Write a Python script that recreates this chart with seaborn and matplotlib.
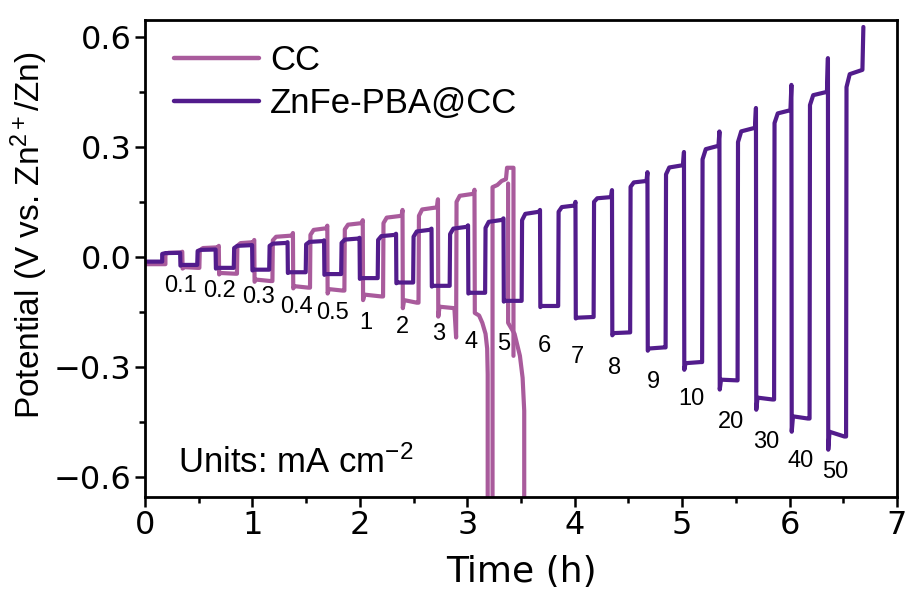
import numpy as np
import pandas as pd
import matplotlib
matplotlib.use("Agg")
import matplotlib.pyplot as plt
import seaborn as sns

# ---------------- data ----------------
step_labels = ["0.1", "0.2", "0.3", "0.4", "0.5", "1", "2", "3", "4", "5",
               "6", "7", "8", "9", "10", "20", "30", "40", "50"]
label_t = [0.326, 0.698, 1.061, 1.406, 1.741, 2.058, 2.393, 2.737, 3.035, 3.343,
           3.715, 4.022, 4.367, 4.730, 5.084, 5.456, 5.782, 6.099, 6.425]
label_v = [-0.079, -0.093, -0.109, -0.136, -0.153, -0.180, -0.191, -0.210, -0.232, -0.237,
           -0.243, -0.273, -0.303, -0.341, -0.387, -0.450, -0.504, -0.556, -0.586]

# ZnFe-PBA@CC : transition times (h) and potentials (V)
pba_rise = [0.16, 0.49, 0.83, 1.16, 1.50, 1.83, 2.17, 2.50, 2.84, 3.17,
            3.51, 3.85, 4.18, 4.52, 4.85, 5.19, 5.52, 5.86, 6.19, 6.53]
pba_drop = [0.33, 0.66, 1.00, 1.33, 1.67, 2.00, 2.34, 2.67, 3.01, 3.34,
            3.68, 4.01, 4.35, 4.68, 5.02, 5.35, 5.69, 6.02, 6.36]
pba_end = 6.69
pba_neg_init = -0.013
pba_pos_start = [0.008, 0.016, 0.024, 0.030, 0.034, 0.038, 0.046, 0.055, 0.062, 0.079,
                 0.100, 0.123, 0.150, 0.191, 0.225, 0.266, 0.313, 0.365, 0.414, 0.463]
pba_pos_end = [0.011, 0.020, 0.032, 0.038, 0.043, 0.050, 0.060, 0.074, 0.082, 0.101,
               0.123, 0.140, 0.163, 0.207, 0.250, 0.303, 0.352, 0.400, 0.450, 0.510]
pba_pos_peak = [0.011, 0.020, 0.032, 0.040, 0.045, 0.052, 0.063, 0.077, 0.086, 0.105,
                0.128, 0.150, 0.182, 0.231, 0.286, 0.342, 0.406, 0.469, 0.542, 0.627]
pba_neg_peak = [-0.024, -0.032, -0.037, -0.044, -0.049, -0.060, -0.072, -0.081, -0.100, -0.122,
                -0.137, -0.168, -0.214, -0.256, -0.308, -0.362, -0.417, -0.477, -0.526]
pba_neg_start = [-0.022, -0.030, -0.035, -0.042, -0.047, -0.058, -0.070, -0.079, -0.098, -0.120,
                 -0.134, -0.166, -0.208, -0.250, -0.290, -0.335, -0.384, -0.435, -0.477]
pba_neg_end = [-0.022, -0.030, -0.035, -0.042, -0.047, -0.058, -0.070, -0.079, -0.098, -0.120,
               -0.134, -0.164, -0.206, -0.247, -0.287, -0.337, -0.389, -0.441, -0.490]

# CC : regular cycles, then failure
cc_rise = [0.19, 0.51, 0.86, 1.19, 1.54, 1.86, 2.22, 2.55, 2.90]
cc_drop = [0.35, 0.69, 1.02, 1.38, 1.70, 2.03, 2.40, 2.73, 3.07]
cc_neg_init = -0.020
cc_pos_start = [0.008, 0.018, 0.030, 0.045, 0.060, 0.075, 0.092, 0.112, 0.150]
cc_pos_end = [0.012, 0.026, 0.040, 0.058, 0.078, 0.092, 0.112, 0.135, 0.172]
cc_pos_peak = [0.014, 0.030, 0.046, 0.065, 0.085, 0.100, 0.128, 0.157, 0.183]
cc_neg_peak = [-0.032, -0.048, -0.068, -0.086, -0.100, -0.118, -0.140, -0.163]
cc_neg_start = [-0.028, -0.044, -0.062, -0.080, -0.088, -0.103, -0.118, -0.136]
cc_neg_end = [-0.030, -0.046, -0.066, -0.084, -0.092, -0.108, -0.125, -0.140]
cc_neg_tail = [-0.030, -0.046, -0.066, -0.084, -0.092, -0.108, -0.125, -0.220]
cc_fail_t = [3.07, 3.11, 3.14, 3.17, 3.185, 3.19, 3.19, 3.235, 3.235, 3.28, 3.32, 3.36,
             3.37, 3.43, 3.43]
cc_fail_v = [-0.153, -0.160, -0.180, -0.210, -0.250, -0.320, -0.800, -0.800, 0.190, 0.196,
             0.207, 0.212, 0.243, 0.243, -0.270]
cc_frag_t = [3.38, 3.38, 3.44, 3.49, 3.515, 3.53, 3.53]
cc_frag_v = [0.200, -0.180, -0.210, -0.270, -0.330, -0.420, -0.800]

series_names = ["CC", "ZnFe-PBA@CC"]
series_colors = ["#A95B9C", "#521C8C"]


def build(rise, drop, end_t, neg_init, p_start, p_end, p_peak, n_peak, n_start, n_end, n_tail):
    t = [0.0, rise[0]]
    v = [neg_init, neg_init]
    n = len(rise)
    for k in range(n):
        r = rise[k]
        d = drop[k] if k < len(drop) else end_t
        t += [r, r + 0.03, d - 0.012, d - 0.003]
        v += [p_start[k], p_start[k] + 0.75 * (p_end[k] - p_start[k]), p_end[k], p_peak[k]]
        if k < len(drop) and k + 1 < n:
            nr = rise[k + 1]
            t += [d, d + 0.012, nr - 0.02, nr - 0.004]
            v += [n_peak[k], n_start[k], n_end[k], n_tail[k]]
    return t, v


pba_t, pba_v = build(pba_rise, pba_drop, pba_end, pba_neg_init, pba_pos_start, pba_pos_end,
                     pba_pos_peak, pba_neg_peak, pba_neg_start, pba_neg_end, pba_neg_end)
cc_t, cc_v = build(cc_rise, cc_drop, cc_drop[-1], cc_neg_init, cc_pos_start, cc_pos_end,
                   cc_pos_peak, cc_neg_peak, cc_neg_start, cc_neg_end, cc_neg_tail)
cc_t = cc_t + cc_fail_t
cc_v = cc_v + cc_fail_v

df_cc = pd.DataFrame({"t": cc_t + cc_frag_t, "V": cc_v + cc_frag_v,
                      "seg": [0] * len(cc_t) + [1] * len(cc_frag_t)})
df_pba = pd.DataFrame({"t": pba_t, "V": pba_v, "seg": 0})

# ---------------- plotting ----------------
sns.set_style("ticks")
plt.rcParams["font.family"] = ["Liberation Sans", "DejaVu Sans"]
plt.rcParams["mathtext.fontset"] = "custom"
plt.rcParams["mathtext.rm"] = "Liberation Sans"
plt.rcParams["mathtext.it"] = "Liberation Sans:italic"
plt.rcParams["mathtext.bf"] = "Liberation Sans:bold"
for key in ["text.color", "axes.labelcolor", "xtick.color", "ytick.color", "axes.edgecolor"]:
    plt.rcParams[key] = "black"

fig = plt.figure(figsize=(9.09, 5.89), dpi=100)
ax = fig.add_axes([145 / 909, 1 - 497 / 589, (897 - 145) / 909, (497 - 20) / 589])

lw = 3.0
sns.lineplot(data=df_cc, x="t", y="V", units="seg", estimator=None, sort=False,
             color=series_colors[0], lw=lw, ax=ax, legend=False)
sns.lineplot(data=df_pba, x="t", y="V", units="seg", estimator=None, sort=False,
             color=series_colors[1], lw=lw, ax=ax, legend=False)

for ln in ax.lines:
    ln.set_solid_joinstyle("round")
    ln.set_solid_capstyle("round")

ax.set_xlim(0, 7)
ax.set_ylim(-0.655, 0.646)
ax.set_xticks(np.arange(0, 8, 1))
ax.set_xticks(np.arange(0.5, 7, 1), minor=True)
ax.set_yticks([-0.6, -0.3, 0.0, 0.3, 0.6])
ax.set_yticks([-0.45, -0.15, 0.15, 0.45], minor=True)
ax.set_yticklabels(["\u22120.6", "\u22120.3", "0.0", "0.3", "0.6"])

for s in ax.spines.values():
    s.set_linewidth(2.0)
    s.set_color("black")
ax.tick_params(which="major", direction="out", length=7.5, width=1.8, pad=2, colors="black")
ax.tick_params(which="minor", direction="out", length=4, width=1.8)
tick_font = ["DejaVu Sans"]
for lab in ax.get_xticklabels() + ax.get_yticklabels():
    lab.set_fontfamily(tick_font)
    lab.set_fontsize(23)

ax.set_xlabel("Time (h)", fontsize=26, labelpad=10, family=tick_font)
ax.set_ylabel("Potential (V vs. Zn$^{\\mathrm{2+}}$/Zn)", fontsize=24)
ax.yaxis.set_label_coords(-0.126, 0.549)

for lab, tx, vy in zip(step_labels, label_t, label_v):
    ax.text(tx, vy, lab, fontsize=17, ha="center", va="center", color="black")

ax.text(0.31, -0.562, "Units: mA cm$^{\\mathrm{-2}}$", fontsize=25, ha="left", va="center")

handles = [matplotlib.lines.Line2D([], [], color=c, lw=3.2, solid_capstyle="round")
           for c in series_colors]
ax.legend(handles, series_names, loc="upper left", bbox_to_anchor=(0.039, 0.95),
          frameon=False, fontsize=25, handlelength=2.45, handletextpad=0.3,
          labelspacing=0.3, borderpad=0, borderaxespad=0)

fig.savefig("out.png", dpi=100)
